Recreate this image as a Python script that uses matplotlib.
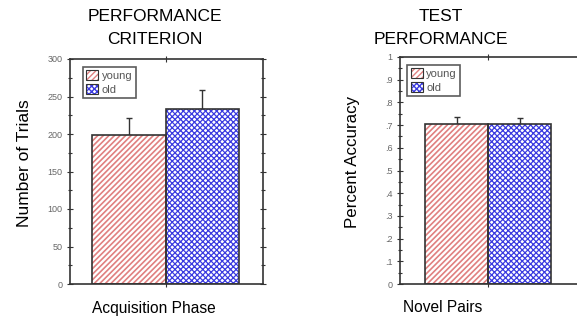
import matplotlib as mpl
import matplotlib.pyplot as plt
from matplotlib.patches import Patch
from matplotlib.legend_handler import HandlerTuple
from matplotlib.ticker import MultipleLocator

plt.rcParams['font.family'] = ['Liberation Sans', 'DejaVu Sans']

groups = ['young', 'old']
trials = [199, 233]
trials_err = [22, 26]
accuracy = [0.705, 0.705]
accuracy_err = [0.031, 0.026]

trial_ticks = [0, 50, 100, 150, 200, 250, 300]
trial_labels = ['0', '50', '100', '150', '200', '250', '300']
acc_ticks = [0, 0.1, 0.2, 0.3, 0.4, 0.5, 0.6, 0.7, 0.8, 0.9, 1.0]
acc_labels = ['0', '.1', '.2', '.3', '.4', '.5', '.6', '.7', '.8', '.9', '1']

red = '#e08080'
blue = '#3a3ae0'
dark = '#333333'
hatches = ['//////', 'xxxxxx']
hatch_lw = [1.2, 0.9]
colors = [red, blue]

fig = plt.figure(figsize=(5.77, 3.2), dpi=100)
ax1 = fig.add_axes([70/577, 36/320, 193/577, 225/320])
ax2 = fig.add_axes([400/577, 36/320, 185/577, 227/320])


def draw(ax, vals, errs, xlim, ylim, ticks, labels, minor, legx):
    xs = [-0.5, 0.5]
    for x, v, e, h, c, hl in zip(xs, vals, errs, hatches, colors, hatch_lw):
        with mpl.rc_context({'hatch.linewidth': hl}):
            ax.bar(x, v, width=1, color='white', edgecolor=c, hatch=h, lw=0, zorder=2)
        ax.bar(x, v, width=1, fill=False, edgecolor=dark, lw=1.2, zorder=3)
        ax.errorbar(x, v, yerr=[[0], [e]], color=dark, lw=1.0, capsize=2,
                    capthick=1.0, zorder=1)
    ax.set_xlim(*xlim)
    ax.set_yticks(ticks)
    ax.set_yticklabels(labels)
    ax.yaxis.set_minor_locator(MultipleLocator(minor))
    ax.set_ylim(*ylim)
    ax.set_xticks([0])
    ax.set_xticklabels([])
    ax.tick_params(axis='y', which='both', left=True, right=True, direction='inout',
                   labelsize=6.5, labelcolor='#666666', color=dark, width=0.8)
    ax.tick_params(axis='y', which='major', length=4)
    ax.tick_params(axis='y', which='minor', length=2.5)
    ax.tick_params(axis='x', top=True, bottom=True, direction='inout', length=4,
                   color=dark, width=0.8)
    for s in ax.spines.values():
        s.set_color(dark)
        s.set_linewidth(1.2)
    handles = []
    for c, h, hl in zip(colors, hatches, hatch_lw):
        with mpl.rc_context({'hatch.linewidth': hl}):
            p = Patch(facecolor='white', edgecolor=c, hatch=h, lw=0)
        handles.append((p, Patch(fill=False, edgecolor=dark, lw=0.8)))
    leg = ax.legend(handles, groups, handler_map={tuple: HandlerTuple(ndivide=1)},
                    loc='upper left', fontsize=8, frameon=True, fancybox=False,
                    handlelength=1.1, handleheight=1.0, handletextpad=0.3,
                    labelspacing=0.25, borderpad=0.3, borderaxespad=0,
                    bbox_to_anchor=(legx, 0.965))
    leg.get_frame().set_edgecolor(dark)
    leg.get_frame().set_linewidth(1.2)
    for t in leg.get_texts():
        t.set_color('#555555')


draw(ax1, trials, trials_err, (-1.299, 1.326), (0, 300), trial_ticks, trial_labels,
     25, 0.067)
draw(ax2, accuracy, accuracy_err, (-1.403, 1.54), (0, 1), acc_ticks, acc_labels,
     0.05, 0.04)

fig.text(155/577, 1 - 28/320, 'PERFORMANCE\nCRITERION', ha='center', va='center',
         fontsize=12.5, linespacing=1.6)
fig.text(441/577, 1 - 28/320, 'TEST\nPERFORMANCE', ha='center', va='center',
         fontsize=12.5, linespacing=1.6)
fig.text(25/577, 1 - 163/320, 'Number of Trials', rotation=90, ha='center',
         va='center', fontsize=12.5)
fig.text(352/577, 1 - 162/320, 'Percent Accuracy', rotation=90, ha='center',
         va='center', fontsize=12.2)
fig.text(154/577, 1 - 308/320, 'Acquisition Phase', ha='center', va='center',
         fontsize=11.2)
fig.text(443/577, 1 - 308/320, 'Novel Pairs', ha='center', va='center',
         fontsize=11.2)

fig.savefig('out.png', dpi=100)
